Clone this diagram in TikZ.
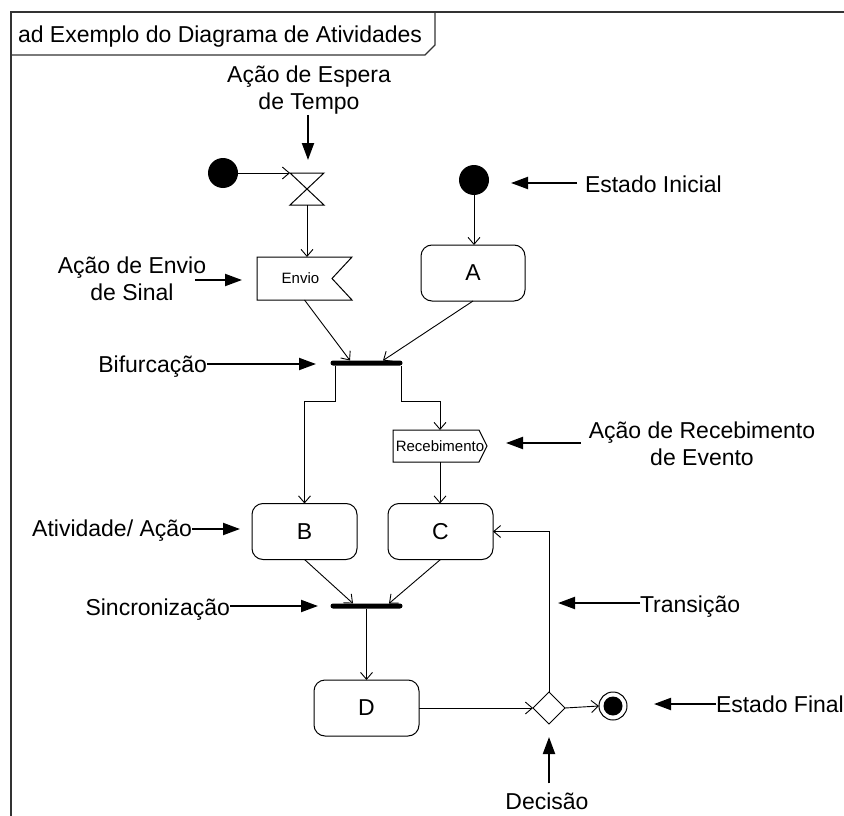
\documentclass[tikz,border=0pt]{standalone}
\usepackage{fontspec}
\setmainfont{Liberation Sans}
\usetikzlibrary{arrows.meta,shapes.geometric,calc}

\begin{document}
\begin{tikzpicture}[x=1pt,y=-1pt,
  every node/.style={inner sep=0pt,outer sep=0pt},
  lbl/.style={font=\fontsize{23}{27}\selectfont,align=center},
  small/.style={font=\fontsize{15}{18}\selectfont},
  pen/.style={line width=1pt},
  act/.style={draw,pen,rounded corners=11pt,minimum width=105pt,minimum height=56pt,font=\fontsize{23}{27}\selectfont},
  startnode/.style={circle,fill=black,minimum size=30pt},
  bar/.style={fill=black,rounded corners=2.5pt,minimum width=72pt,minimum height=5pt},
  conn/.style={line width=0.9pt,-{Straight Barb[length=7pt,width=12pt]}},
  pointer/.style={line width=2pt,-{Triangle[length=17pt,width=12pt]}},
  framepen/.style={line width=1.2pt,black!80}
]
\useasboundingbox (0,0) rectangle (844,816);

% diagram frame and name tab
\draw[framepen] (11,816) -- (11,12) -- (844,12);
\draw[framepen] (11,55) -- (425,55) -- (435,45) -- (435,12);
\node[lbl,anchor=base west] (title) at (18,43) {ad Exemplo do Diagrama de Atividades};

% activity nodes
\node[startnode] (init1) at (223,173) {};
\node[minimum width=34pt,minimum height=32pt] (wait) at (307,189) {};
\draw[pen] (wait.north west) -- (wait.north east) -- (wait.south west) -- (wait.south east) -- cycle;

\node[minimum width=95pt,minimum height=43pt,
      label={[small,xshift=-4pt]center:Envio}] (send) at (304.5,278.5) {};
\draw[pen] (send.north west) -- (send.north east) -- ([xshift=-20pt]send.east)
  -- (send.south east) -- (send.south west) -- cycle;

\node[startnode] (init2) at (474,180) {};
\node[act,minimum width=104pt] (A) at (473,273) {A};
\node[bar] (fork) at (366.5,363) {};

\node[small,minimum width=94pt,minimum height=32pt] (recv) at (440,446) {Recebimento};
\draw[pen] (recv.north west) -- ([xshift=-8pt]recv.north east) -- (recv.east)
  -- ([xshift=-8pt]recv.south east) -- (recv.south west) -- cycle;

\node[act] (B) at (304.5,531.5) {B};
\node[act] (C) at (440.5,531.5) {C};
\node[bar] (sync) at (366.5,606) {};
\node[act] (D) at (366.5,708) {D};
\node[diamond,draw,pen,minimum width=32pt,minimum height=32pt] (dec) at (549,708) {};
\node[circle,draw,pen,minimum size=28pt] (final) at (613,706) {};
\node[circle,fill=black,minimum size=19pt] (finaldot) at (final.center) {};

% control flows
\draw[conn] (init1) -- (wait.north west);
\draw[conn] (wait.south) -- (wait.south |- send.north);
\draw[conn] (send.south) -- ([xshift=-16.5pt]fork.north);
\draw[conn] (init2) -- (init2 |- A.north);
\draw[conn] (A.south) -- ([xshift=16.5pt]fork.north);
\draw[conn] ([xshift=4.5pt]fork.south west) -- ++(0,36) -| (B.north);
\draw[conn] ([xshift=-1.5pt]fork.south east) -- ++(0,36) -| (recv.north);
\draw[conn] (recv.south) -- (recv.south |- C.north);
\draw[conn] (B.south) -- ([xshift=-13.5pt]sync.north);
\draw[conn] (C.south) -- ([xshift=22.5pt]sync.north);
\draw[conn] (sync.south) -- (sync.south |- D.north);
\draw[conn] (D.east) -- (dec.west);
\draw[conn] (dec.east) -- (final.west);
\draw[conn] (dec.north) |- (C.east);

% annotations (base anchor of a two-line label sits on its last line)
\node[lbl,anchor=base] (waitlbl) at (309,110) {Ação de Espera\\de Tempo};
\coordinate (waittip) at (308,160);
\draw[pointer] (waittip |- waitlbl.south) -- (waittip);

\node[lbl,anchor=base west] (inilbl) at (585,192) {Estado Inicial};
\coordinate (initip) at (511,183);
\draw[pointer] ($(inilbl.west |- initip)+(-8,0)$) -- (initip);

\node[lbl,anchor=base] (sendlbl) at (132,300) {Ação de Envio\\de Sinal};
\coordinate (sendtip) at (242,280);
\draw[pointer] ($(sendlbl.east |- sendtip)+(-11,0)$) -- (sendtip);

\node[lbl,anchor=base east] (forklbl) at (207,372) {Bifurcação};
\coordinate (forktip) at (316,364);
\draw[pointer] (forklbl.east |- forktip) -- (forktip);

\node[lbl,anchor=base] (recvlbl) at (702,465) {Ação de Recebimento\\de Evento};
\coordinate (recvtip) at (506,443);
\draw[pointer] ($(recvlbl.west |- recvtip)+(-8,0)$) -- (recvtip);

\node[lbl,anchor=base east] (actlbl) at (192,536) {Atividade/ Ação};
\coordinate (acttip) at (240,529);
\draw[pointer] (actlbl.east |- acttip) -- (acttip);

\node[lbl,anchor=base east] (synclbl) at (230,615) {Sincronização};
\coordinate (synctip) at (318,606);
\draw[pointer] (synclbl.east |- synctip) -- (synctip);

\node[lbl,anchor=base west] (translbl) at (640,612) {Transição};
\coordinate (transtip) at (558,603);
\draw[pointer] (translbl.west |- transtip) -- (transtip);

\node[lbl,anchor=base west] (finlbl) at (716,712) {Estado Final};
\coordinate (fintip) at (654,704);
\draw[pointer] (finlbl.west |- fintip) -- (fintip);

\node[lbl,anchor=base] (declbl) at (547,809) {Decisão};
\coordinate (dectip) at (549,737);
\draw[pointer] ($(declbl.north -| dectip)+(0,-9)$) -- (dectip);
\end{tikzpicture}
\end{document}
